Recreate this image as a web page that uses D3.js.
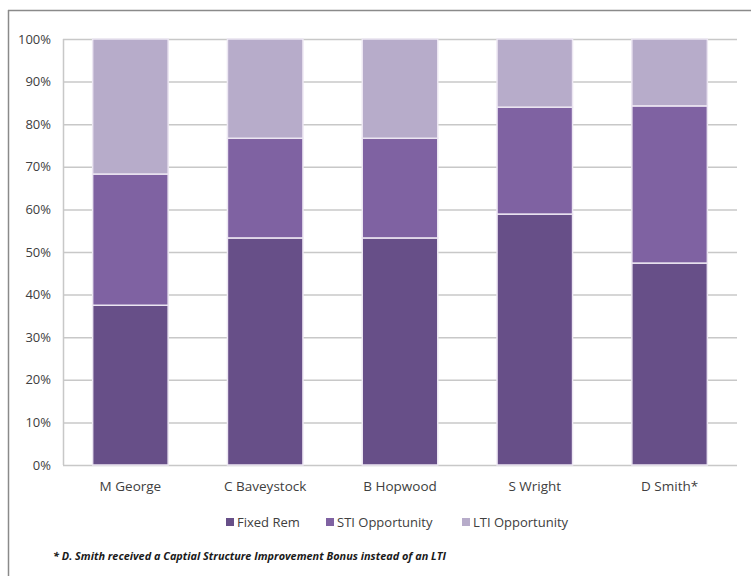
<!DOCTYPE html>
<html><head><meta charset="utf-8">
<script src="https://cdn.jsdelivr.net/npm/d3@7"></script>
<style>body{margin:0;background:#fff}</style>
</head><body>
<svg id="c" width="751" height="576"></svg>
<script>
const categories = ["M George","C Baveystock","B Hopwood","S Wright","D Smith*"];
const seriesNames = ["Fixed Rem","STI Opportunity","LTI Opportunity"];
const fixedRem = [37.5, 53.3, 53.3, 58.9, 47.4];
const stiOpp   = [30.8, 23.4, 23.4, 25.1, 36.9];
const ltiOpp   = [31.7, 23.3, 23.3, 16.0, 15.7];
const yTicks = [0,10,20,30,40,50,60,70,80,90,100];
const colors = ["#674f88","#7f62a2","#b7acca"];
const footnote = "* D. Smith received a Captial Structure Improvement Bonus instead of an LTI";

const svg = d3.select("#c");
const font = "'Open Sans', sans-serif";
// outer frame (top and left visible)
svg.append("line").attr("x1",8).attr("x2",751).attr("y1",10.5).attr("y2",10.5).attr("stroke","#8a8a8a").attr("stroke-width",1.5);
svg.append("line").attr("x1",8.5).attr("x2",8.5).attr("y1",10).attr("y2",576).attr("stroke","#8a8a8a").attr("stroke-width",1.5);

const m = {l:63, r:737, t:39, b:465};
const x = d3.scaleBand().domain(categories).range([m.l,m.r]).paddingInner(0.44).paddingOuter(0.22);
const y = d3.scaleLinear().domain([0,100]).range([m.b,m.t]);

// gridlines
svg.append("g").selectAll("line").data(yTicks).join("line")
  .attr("x1",m.l).attr("x2",m.r).attr("y1",d=>y(d)+0.5).attr("y2",d=>y(d)+0.5)
  .attr("stroke","#c8c8c8").attr("stroke-width",1.5);
svg.append("line").attr("x1",m.l+0.5).attr("x2",m.l+0.5).attr("y1",m.t).attr("y2",m.b).attr("stroke","#c8c8c8").attr("stroke-width",1.5);

// y labels
svg.append("g").selectAll("text").data(yTicks).join("text")
  .attr("x",51).attr("y",d=>y(d)+4.5).attr("text-anchor","end")
  .attr("font-family",font).attr("font-size",13).attr("fill","#404040")
  .text(d=>d+"%");

const rows = categories.map((c,i)=>({cat:c, "Fixed Rem":fixedRem[i], "STI Opportunity":stiOpp[i], "LTI Opportunity":ltiOpp[i]}));
const stack = d3.stack().keys(seriesNames)(rows);
svg.append("g").selectAll("g").data(stack).join("g")
  .attr("fill",(d,i)=>colors[i])
  .selectAll("rect").data(d=>d).join("rect")
  .attr("x",d=>x(d.data.cat)).attr("width",x.bandwidth())
  .attr("y",d=>y(d[1])).attr("height",d=>y(d[0])-y(d[1]))
  .attr("stroke","#ece6f2").attr("stroke-width",1.5);

// category labels
svg.append("g").selectAll("text").data(categories).join("text")
  .attr("x",d=>x(d)+x.bandwidth()/2).attr("y",491).attr("text-anchor","middle")
  .attr("font-family",font).attr("font-size",13.5).attr("fill","#404040").text(d=>d);

// legend
const legX = [226, 326, 462];
const lg = svg.append("g").selectAll("g").data(seriesNames).join("g")
  .attr("transform",(d,i)=>`translate(${legX[i]},522)`);
lg.append("rect").attr("x",0).attr("y",-4).attr("width",8).attr("height",8).attr("fill",(d,i)=>colors[i]);
lg.append("text").attr("x",11).attr("y",4.5).attr("font-family",font).attr("font-size",13).attr("fill","#404040").text(d=>d);

// footnote
svg.append("text").attr("x",53).attr("y",560).attr("font-family",font).attr("font-size",10.5)
  .attr("font-weight","bold").attr("font-style","italic").attr("fill","#1a1a1a")
  .attr("textLength",393).attr("lengthAdjust","spacingAndGlyphs").text(footnote);
</script>
</body></html>
